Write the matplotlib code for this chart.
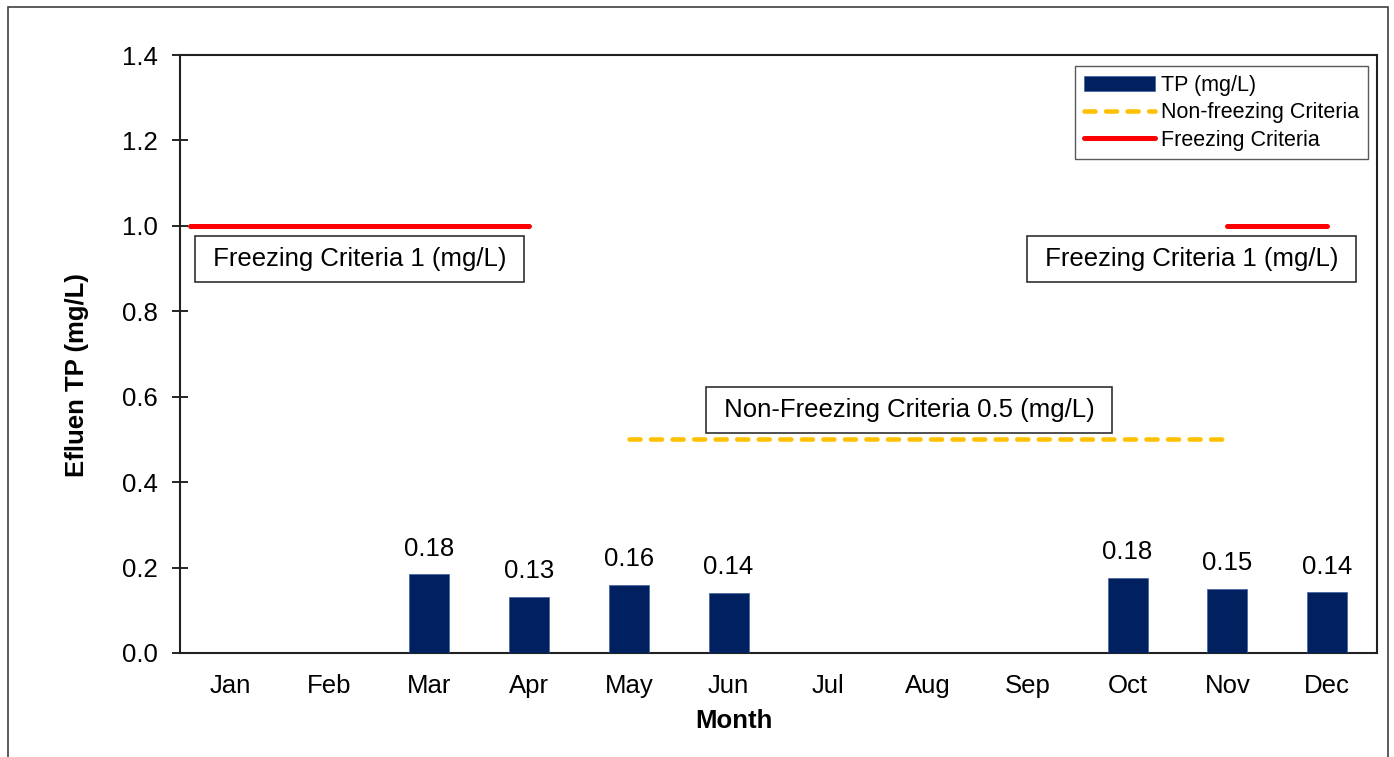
import matplotlib.pyplot as plt
import matplotlib.patches as patches
import numpy as np

plt.rcParams['font.family'] = ['Liberation Sans', 'DejaVu Sans']

months = ['Jan', 'Feb', 'Mar', 'Apr', 'May', 'Jun', 'Jul', 'Aug', 'Sep', 'Oct', 'Nov', 'Dec']
tp = [np.nan, np.nan, 0.184, 0.131, 0.159, 0.141, np.nan, np.nan, np.nan, 0.176, 0.150, 0.142]
tp_labels = ['', '', '0.18', '0.13', '0.16', '0.14', '', '', '', '0.18', '0.15', '0.14']

# criteria line segments (x in month index)
freeze_left_x = [-0.4, 3]
freeze_right_x = [10, 11]
freeze_y = 1.0
nonfreeze_x = [4, 10]
nonfreeze_y = 0.5

bar_color = '#002060'
yellow = '#FFC000'
red = '#FF0000'
fs = 18.5

fig = plt.figure(figsize=(13.94, 7.57), dpi=100)
ax = fig.add_axes([0.1291, 0.1374, 0.8587, 0.7899])

# outer chart border
fig.patches.append(patches.Rectangle((8 / 1394, -0.05), 1380 / 1394, 1.05 - 7 / 757,
                                     transform=fig.transFigure, fill=False,
                                     edgecolor='#404040', linewidth=1.2))

x = np.arange(len(months))
ax.bar(x, tp, width=0.4, color=bar_color, edgecolor='#4060a0', linewidth=0.5,
       label='TP (mg/L)', zorder=3)
for xi, v, lab in zip(x, tp, tp_labels):
    if lab:
        ax.text(xi, v + 0.06, lab, ha='center', va='center', fontsize=fs)

ax.plot(nonfreeze_x, [nonfreeze_y] * 2, color=yellow, lw=3.3, dashes=(2.4, 2.3),
        dash_capstyle='round', label='Non-freezing Criteria')
ax.plot(freeze_left_x, [freeze_y] * 2, color=red, lw=3.6, solid_capstyle='round',
        label='Freezing Criteria')
ax.plot(freeze_right_x, [freeze_y] * 2, color=red, lw=3.6, solid_capstyle='round')

box = dict(boxstyle='square,pad=0.42', facecolor='white', edgecolor='#303030', linewidth=1.2)
ax.text(1.3, 0.922, ' Freezing Criteria 1 (mg/L) ', ha='center', va='center', fontsize=fs, bbox=box)
ax.text(9.64, 0.922, ' Freezing Criteria 1 (mg/L) ', ha='center', va='center', fontsize=fs, bbox=box)
ax.text(6.81, 0.569, ' Non-Freezing Criteria 0.5 (mg/L) ', ha='center', va='center', fontsize=fs, bbox=box)

ax.set_xlim(-0.5, 11.5)
ax.set_ylim(0, 1.4)
ax.set_yticks(np.arange(0, 1.41, 0.2))
ax.yaxis.set_major_formatter(plt.FormatStrFormatter('%.1f'))
ax.set_xticks(x)
ax.set_xticklabels(months)
ax.tick_params(axis='y', direction='inout', length=12, width=1.2, labelsize=fs, pad=10)
ax.tick_params(axis='x', length=0, labelsize=fs, pad=15)
for s in ax.spines.values():
    s.set_linewidth(1.5)
    s.set_color('#202020')

ax.set_xlabel('Month', fontsize=fs, fontweight='bold')
ax.xaxis.set_label_coords(0.463, -0.094)
ax.set_ylabel('Efluen TP (mg/L)', fontsize=fs, fontweight='bold')
ax.yaxis.set_label_coords(-0.076, 0.465)

handles, labels = ax.get_legend_handles_labels()
order = [labels.index('TP (mg/L)'), labels.index('Non-freezing Criteria'), labels.index('Freezing Criteria')]
leg = ax.legend([handles[i] for i in order], [labels[i] for i in order],
                loc='upper right', bbox_to_anchor=(0.9925, 0.9816), borderaxespad=0,
                fontsize=15.5, frameon=True, fancybox=False, edgecolor='#303030',
                handlelength=3.3, handletextpad=0.3, borderpad=0.4, labelspacing=0.3)
leg.get_frame().set_linewidth(1.0)

fig.savefig('out.png', dpi=100)
